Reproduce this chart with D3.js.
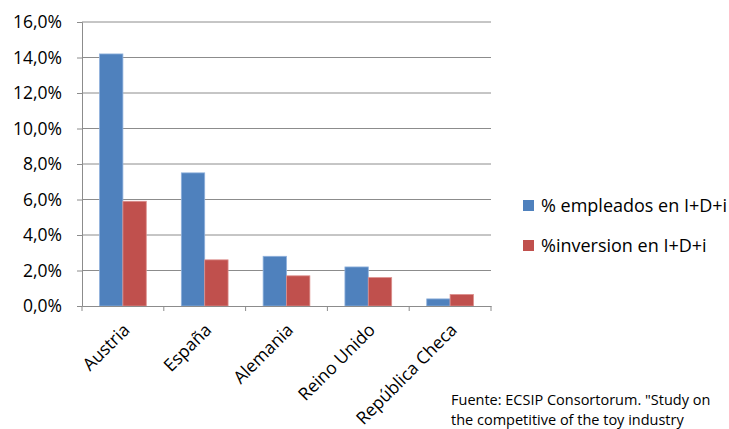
<!DOCTYPE html>
<html>
<head>
<meta charset="utf-8">
<script src="https://cdn.jsdelivr.net/npm/d3@7"></script>
<style>
  body { margin: 0; background: #fff; }
  svg text { font-family: "Open Sans", "Noto Sans", sans-serif; fill: #000; }
</style>
</head>
<body>
<svg id="chart" width="729" height="429"></svg>
<script>
var countries = ["Austria", "España", "Alemania", "Reino Unido", "República Checa"];
var empleados = [14.2, 7.5, 2.8, 2.2, 0.4];
var inversion = [5.9, 2.6, 1.7, 1.6, 0.65];
var seriesNames = ["% empleados en I+D+i", "%inversion en I+D+i"];
var seriesColors = ["#4f81bd", "#c0504d"];
var yTicks = [0, 2, 4, 6, 8, 10, 12, 14, 16];

var margin = {top: 22, right: 238, bottom: 123, left: 82},
    width = 729 - margin.left - margin.right,
    height = 429 - margin.top - margin.bottom;

var svg = d3.select("#chart");
var g = svg.append("g")
    .attr("transform", "translate(" + margin.left + "," + margin.top + ")");

var x = d3.scaleBand().domain(countries).range([0, width]);
// Excel default gap width 150%: two bars take 2/3.5 of each band
var xInner = d3.scaleBand().domain([0, 1])
    .range([x.bandwidth() * 0.75 / 3.5, x.bandwidth() * 2.75 / 3.5]);
var y = d3.scaleLinear().domain([0, 16]).range([height, 0]);

// gridlines
g.selectAll(".grid")
    .data(yTicks.slice(1))
    .enter().append("line")
    .attr("x1", 0).attr("x2", width)
    .attr("y1", d => y(d)).attr("y2", d => y(d))
    .attr("stroke", "#8c8c8c").attr("stroke-width", 1);

// y axis
var yAxis = g.append("g")
    .call(d3.axisLeft(y).tickValues(yTicks).tickSize(5).tickPadding(15)
        .tickFormat(d => d.toFixed(1).replace(".", ",") + "%"));
yAxis.select(".domain").attr("stroke", "#8c8c8c");
yAxis.selectAll(".tick line").attr("stroke", "#8c8c8c");
yAxis.selectAll("text").style("font-size", "17.5px").attr("fill", "#000");

// bars
var data = countries.map((c, i) => ({c: c, v: [empleados[i], inversion[i]]}));
var groups = g.selectAll(".grp").data(data).enter().append("g")
    .attr("transform", d => "translate(" + x(d.c) + ",0)");
groups.selectAll("rect")
    .data(d => d.v.map((v, k) => ({v: v, k: k})))
    .enter().append("rect")
    .attr("x", d => xInner(d.k))
    .attr("width", xInner.bandwidth())
    .attr("y", d => y(d.v))
    .attr("height", d => height - y(d.v))
    .attr("fill", d => seriesColors[d.k])
    .attr("stroke", d => d.k === 0 ? "#8fb1dc" : "#dc8f8d")
    .attr("stroke-width", 0.8);

// x axis
var xAxis = g.append("g")
    .attr("transform", "translate(0," + height + ")")
    .call(d3.axisBottom(x).tickSize(0).tickPadding(0));
xAxis.select(".domain").attr("stroke", "#8c8c8c");
xAxis.selectAll(".tick line").remove();
xAxis.selectAll(".bnd")
    .data(d3.range(countries.length + 1))
    .enter().append("line")
    .attr("x1", i => i * x.step()).attr("x2", i => i * x.step())
    .attr("y1", 0).attr("y2", 5)
    .attr("stroke", "#8c8c8c");
xAxis.selectAll(".tick text")
    .style("font-size", "17.5px")
    .attr("fill", "#000")
    .attr("text-anchor", "end")
    .attr("dy", 0)
    .attr("transform", "translate(8,25) rotate(-45)");

// legend
var legend = svg.append("g").attr("transform", "translate(523,200)");
seriesNames.forEach(function(name, i) {
  var row = legend.append("g").attr("transform", "translate(0," + (i * 40) + ")");
  row.append("rect").attr("width", 11).attr("height", 11).attr("fill", seriesColors[i]);
  row.append("text").attr("x", 18).attr("y", 12).style("font-size", "18px").text(name);
});

// source note
var note = svg.append("text").attr("x", 451).attr("y", 405)
    .style("font-size", "14.5px").attr("fill", "#333");
note.append("tspan").attr("x", 451).text("Fuente: ECSIP Consortorum. \"Study on");
note.append("tspan").attr("x", 451).attr("dy", 20).text("the competitive of the toy industry");
</script>
</body>
</html>
